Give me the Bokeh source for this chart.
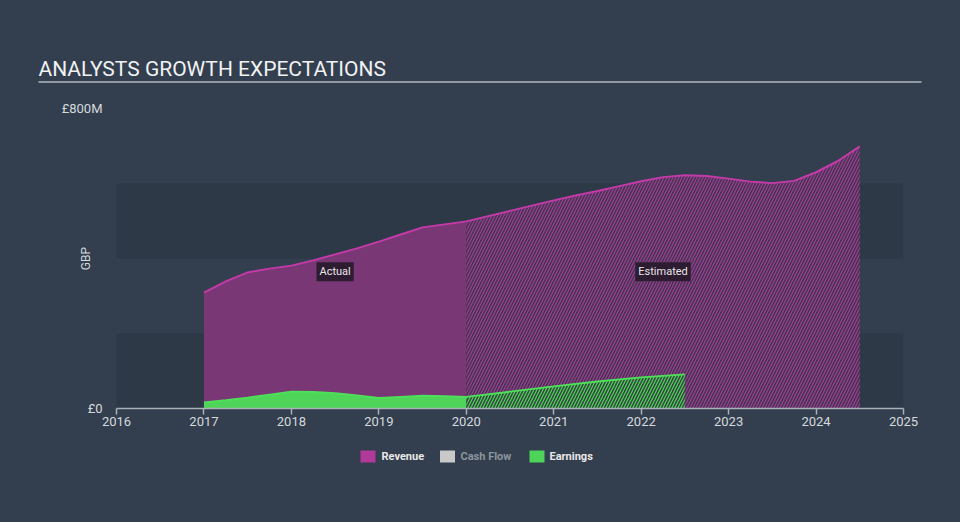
from bokeh.plotting import figure
from bokeh.layouts import column
from bokeh.models import Range1d, FixedTicker, CustomJSTickFormatter, Label, BoxAnnotation
from bokeh.core.properties import value
from bokeh.embed import file_html
from bokeh.resources import INLINE

# ---- data (GBP millions) ----
rev_act_x = [2017, 2017.25, 2017.5, 2017.75, 2018, 2018.25, 2018.5, 2018.75, 2019, 2019.25, 2019.5, 2019.75, 2020]
rev_act_y = [309, 339, 363, 373, 381, 395, 411, 427, 445, 464, 483, 491, 499]
rev_est_x = [2020, 2020.25, 2020.5, 2020.75, 2021, 2021.25, 2021.5, 2021.75, 2022, 2022.25, 2022.5, 2022.75,
             2023, 2023.25, 2023.5, 2023.75, 2024, 2024.25, 2024.5]
rev_est_y = [499, 513, 527, 541, 555, 568, 580, 593, 606, 617, 622, 620,
             613, 605, 601, 607, 630, 660, 699]
earn_act_x = [2017, 2017.25, 2017.5, 2017.75, 2018, 2018.25, 2018.5, 2018.75, 2019, 2019.25, 2019.5, 2019.75, 2020]
earn_act_y = [16, 22, 29, 37, 45, 44, 41, 35, 28, 31, 34, 33, 31]
earn_est_x = [2020, 2020.5, 2021, 2021.5, 2022, 2022.5]
earn_est_y = [31, 45, 59, 72, 83, 91]
x_ticks = [2016, 2017, 2018, 2019, 2020, 2021, 2022, 2023, 2024, 2025]
y_ticks = [0, 800]
y_tick_labels = ["£0", "£800M"]
band_lo = [0, 400]
band_hi = [200, 600]
legend_names = ["Revenue", "Cash Flow", "Earnings"]
legend_colors = ["#b0399a", "#c9c9c9", "#4fd45a"]
legend_text_colors = ["#e8e8e8", "#8d949d", "#e8e8e8"]
title_text = "ANALYSTS GROWTH EXPECTATIONS"

BG = "#333f4e"
BAND = "#2d3946"
FONT = "Roboto"
TXT = "#d5d9de"
BGSTYLE = {"background-color": BG}


def blank(h):
    f = figure(width=960, height=h, output_backend="svg", toolbar_location=None,
               x_range=Range1d(0, 960), y_range=Range1d(h, 0), frame_align=False,
               x_axis_location=None, y_axis_location=None,
               min_border_left=0, min_border_right=0, min_border_top=0, min_border_bottom=0,
               background_fill_color=BG, border_fill_color=BG, styles=BGSTYLE)
    f.outline_line_color = BG
    f.outline_line_alpha = 1
    f.outline_line_width = 2
    f.grid.visible = False
    return f


# ---- title strip ----
t = blank(90)
t.text(x=[38], y=[68], text=[title_text], text_baseline="middle", text_align="left",
       text_font=value(FONT), text_font_size="21px", text_color="#f0f2f4")
t.line(x=[38, 921], y=[81.5, 81.5], line_color="#b4b9c0", line_width=1.5)

# ---- main chart ----
p = figure(width=960, height=350, output_backend="svg", toolbar_location=None,
           x_range=Range1d(2016, 2025), y_range=Range1d(0, 800), frame_align=False,
           min_border_left=116, min_border_right=57, min_border_top=18, min_border_bottom=32,
           background_fill_color=BG, border_fill_color=BG, styles=BGSTYLE)
p.outline_line_color = BG
p.outline_line_alpha = 1
p.outline_line_width = 2
p.grid.visible = False

for lo, hi in zip(band_lo, band_hi):
    p.add_layout(BoxAnnotation(bottom=lo, top=hi, fill_color=BAND, fill_alpha=1, line_color=None, level="underlay"))

p.varea(x=rev_act_x, y1=[0] * len(rev_act_x), y2=rev_act_y, fill_color="#7a3775")
p.varea(x=rev_est_x, y1=[0] * len(rev_est_x), y2=rev_est_y, fill_color="#48334f",
        hatch_pattern="/", hatch_color="#9a3f98", hatch_scale=6, hatch_weight=1.2)
p.line(rev_act_x + rev_est_x[1:], rev_act_y + rev_est_y[1:], line_color="#c43aa8", line_width=2)

p.varea(x=earn_act_x, y1=[0] * len(earn_act_x), y2=earn_act_y, fill_color="#4fd45a")
p.varea(x=earn_est_x, y1=[0] * len(earn_est_x), y2=earn_est_y, fill_color="#33493f",
        hatch_pattern="/", hatch_color="#4fd45a", hatch_scale=6, hatch_weight=1.2)
p.line(earn_act_x + earn_est_x[1:], earn_act_y + earn_est_y[1:], line_color="#4fe05a", line_width=2)

for txt, xv in [("Actual", (rev_act_x[0] + rev_act_x[-1]) / 2),
                ("Estimated", (rev_est_x[0] + rev_est_x[-1]) / 2)]:
    p.add_layout(Label(x=xv, y=365, text=txt, text_align="center", text_baseline="middle",
                       text_font=FONT, text_font_size="11px", text_color="#e6e6e6",
                       background_fill_color="#2a1b2e", background_fill_alpha=0.95,
                       padding=3))

xa = p.xaxis[0]
xa.ticker = FixedTicker(ticks=x_ticks)
xa.axis_line_color = "#a9b0b8"
xa.axis_line_width = 1.5
xa.major_tick_line_color = "#a9b0b8"
xa.major_tick_line_width = 1.5
xa.major_tick_out = 6
xa.major_tick_in = 0
xa.minor_tick_line_color = None
xa.major_label_text_color = TXT
xa.major_label_text_font = FONT
xa.major_label_text_font_size = "13px"
xa.major_label_standoff = 2

ya = p.yaxis[0]
ya.ticker = FixedTicker(ticks=y_ticks)
ya.formatter = CustomJSTickFormatter(args=dict(t=y_ticks, l=y_tick_labels),
                                     code="const i = t.indexOf(tick); return i >= 0 ? l[i] : '';")
ya.axis_line_color = None
ya.major_tick_line_color = None
ya.minor_tick_line_color = None
ya.major_label_text_color = TXT
ya.major_label_text_font = FONT
ya.major_label_text_font_size = "13px"
ya.major_label_standoff = 8
ya.axis_label = "GBP"
ya.axis_label_text_font = FONT
ya.axis_label_text_font_style = "normal"
ya.axis_label_text_font_size = "12px"
ya.axis_label_text_color = TXT
ya.axis_label_standoff = -34

# ---- legend strip ----
g = blank(82)
sw_x = [367.5, 447, 536.5]
tx_x = [381, 460, 549]
g.rect(x=sw_x, y=[16] * 3, width=15, height=12, fill_color=legend_colors, line_color=None)
g.text(x=tx_x, y=[16] * 3, text=legend_names, text_color=legend_text_colors, text_baseline="middle",
       text_font=value(FONT), text_font_size="11px", text_font_style="bold")

layout = column(t, p, g, spacing=0, styles=BGSTYLE)
open("out.html", "w").write(file_html(layout, INLINE))
